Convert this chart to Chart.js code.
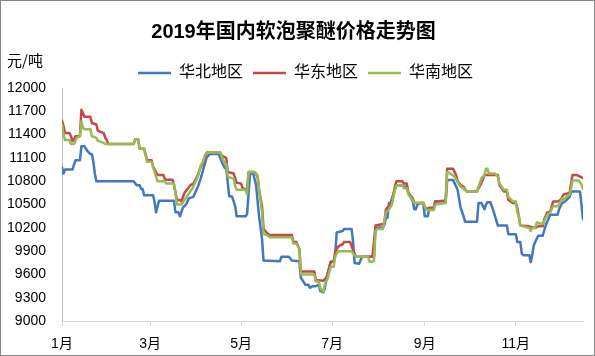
<!DOCTYPE html>
<html><head><meta charset="utf-8">
<script src="https://cdn.jsdelivr.net/npm/chart.js@4.4.1/dist/chart.umd.min.js"></script>
<style>html,body{margin:0;padding:0;background:#fff}#wrap{width:595px;height:356px}</style>
</head><body><div id="wrap"><canvas id="c" width="595" height="356"></canvas></div>
<script>
const chartTitle = '2019年国内软泡聚醚价格走势图';
const unitLabel = '元/吨';
const seriesNames = ['华北地区', '华东地区', '华南地区'];
const monthTickDays = [0, 59, 120, 181, 243, 304];
const monthTickLabels = ['1月', '3月', '5月', '7月', '9月', '11月'];
const yTickValues = [9000, 9300, 9600, 9900, 10200, 10500, 10800, 11100, 11400, 11700, 12000];

// 华北地区 (day of year, price)
const northDays = [0,1,2,7,9,12,13,15,17,19,20,21,22,23,48,50,52,53,54,55,61,62,63,65,75,76,78,79,81,83,85,88,91,93,95,97,99,105,107,109,110,111,112,114,116,117,123,124,125,126,128,129,130,132,134,135,146,147,152,154,159,160,163,165,166,168,170,172,173,175,176,178,180,182,183,184,188,189,194,195,196,199,200,201,209,210,215,216,217,218,219,220,223,224,228,229,231,232,235,236,237,238,240,242,243,245,246,249,250,257,258,262,265,267,269,270,278,279,281,282,283,284,285,287,289,292,298,299,304,305,307,308,309,313,314,315,316,317,319,322,324,327,332,333,335,337,340,341,347,348,349];
const northValues = [10980,10900,10950,10950,11070,11070,11250,11250,11190,11150,11150,11050,10900,10800,10800,10750,10750,10700,10700,10620,10620,10540,10400,10550,10550,10400,10400,10350,10460,10500,10580,10600,10730,10840,10980,11110,11150,11150,11050,10970,10970,10790,10610,10600,10480,10350,10350,10380,10650,10900,10900,10830,10750,10350,10060,9780,9770,9830,9830,9780,9770,9560,9470,9470,9430,9450,9450,9470,9390,9370,9420,9620,9765,9765,9850,10140,10160,10185,10185,10020,9750,9740,9785,9830,9830,10200,10210,10240,10330,10330,10520,10520,10690,10750,10750,10730,10730,10650,10540,10440,10440,10500,10520,10520,10350,10350,10440,10440,10540,10550,10815,10815,10690,10460,10350,10280,10280,10520,10520,10480,10440,10500,10530,10530,10420,10230,10230,10120,10120,10020,10020,9870,9850,9850,9760,9850,9975,10020,10100,10100,10230,10370,10370,10440,10520,10540,10600,10670,10670,10500,10310];

// 华东地区
const eastDays = [0,1,2,5,6,7,8,9,12,13,14,15,19,20,23,24,28,29,30,31,48,49,51,52,55,56,57,60,61,62,64,68,69,74,75,77,79,80,82,86,88,91,93,94,96,97,106,107,109,110,111,115,116,117,120,121,124,125,129,131,132,134,135,137,139,154,155,157,159,160,169,170,175,177,178,180,182,183,184,186,188,189,193,195,197,208,210,215,216,217,219,221,223,224,228,229,231,232,235,236,242,244,246,249,250,257,258,262,264,265,267,269,271,278,279,281,283,292,293,296,298,299,302,304,305,306,307,313,317,319,322,323,325,327,329,332,334,336,338,340,341,342,345,347,349];
const eastValues = [11580,11510,11420,11420,11380,11320,11340,11380,11380,11720,11680,11630,11630,11550,11530,11450,11420,11360,11330,11280,11280,11340,11340,11220,11220,11150,11070,11070,10990,10950,10880,10880,10820,10820,10760,10560,10560,10540,10650,10750,10770,10880,10990,11020,11100,11170,11170,11130,11110,11100,10920,10900,10840,10780,10770,10710,10690,10920,10920,10860,10690,10480,10190,10140,10110,10110,10020,10020,9930,9640,9640,9530,9520,9560,9600,9765,9765,9890,9930,9975,9990,10020,10020,9910,9830,9830,10230,10250,10270,10440,10480,10540,10730,10800,10800,10770,10770,10650,10580,10520,10520,10440,10460,10460,10540,10550,10960,10960,10880,10800,10750,10730,10670,10670,10710,10780,10880,10880,10750,10670,10670,10560,10520,10520,10460,10350,10230,10220,10200,10220,10220,10310,10400,10410,10540,10540,10560,10630,10640,10650,10770,10880,10880,10860,10840];

// 华南地区
const southDays = [0,1,2,5,6,8,9,10,12,13,14,15,19,20,23,24,27,29,48,49,51,52,55,56,57,60,61,62,64,69,70,75,76,77,80,82,86,88,91,93,94,96,98,106,107,109,110,111,115,116,117,123,124,125,129,131,132,134,135,138,139,154,155,157,159,160,169,170,172,173,175,176,178,180,182,183,184,185,194,195,197,205,206,208,209,210,211,215,217,219,221,223,224,228,229,231,232,235,236,242,244,249,250,257,258,260,263,265,267,269,271,278,279,281,283,284,285,286,290,292,293,296,298,299,302,304,305,306,307,313,314,315,317,318,322,323,325,327,329,332,333,335,336,338,340,341,342,346,348,349];
const southValues = [11530,11400,11330,11330,11280,11280,11320,11360,11380,11570,11490,11470,11470,11380,11360,11320,11300,11280,11280,11340,11340,11220,11220,11130,11050,11050,10980,10920,10800,10800,10770,10770,10650,10500,10500,10560,10670,10730,10860,11010,11030,11150,11170,11170,11120,11030,11020,10860,10830,10740,10690,10690,10630,10920,10920,10880,10690,10400,10120,10100,10080,10080,10000,10000,9930,9600,9600,9510,9510,9430,9370,9470,9555,9700,9700,9830,9870,9900,9900,9870,9830,9830,9765,9765,9780,10160,10185,10185,10400,10440,10500,10690,10750,10750,10710,10710,10630,10560,10520,10520,10430,10430,10500,10520,10920,10900,10860,10790,10730,10710,10670,10670,10730,10840,10880,10960,10960,10900,10900,10860,10770,10690,10690,10600,10540,10540,10400,10350,10230,10200,10160,10200,10200,10270,10250,10290,10370,10400,10480,10480,10500,10580,10560,10600,10630,10710,10810,10810,10760,10700];

const seriesColors = ['#4277c2', '#c34a47', '#98ba52'];

function toPoints(days, values) { return days.map((d, i) => ({ x: d, y: values[i] })); }

const framePlugin = {
  id: 'frame',
  beforeDraw(chart) {
    const ctx = chart.ctx;
    ctx.save(); ctx.fillStyle = '#fff'; ctx.fillRect(0, 0, chart.width, chart.height); ctx.restore();
  },
  afterDraw(chart) {
    const ctx = chart.ctx;
    ctx.save();
    ctx.strokeStyle = '#868686'; ctx.lineWidth = 1;
    ctx.strokeRect(0.5, 0.5, chart.width - 1, chart.height - 1);
    ctx.font = '15px "Noto Sans CJK SC", sans-serif';
    ctx.fillStyle = '#000'; ctx.textBaseline = 'middle'; ctx.textAlign = 'left';
    ctx.fillText(unitLabel, 7, 60);
    ctx.restore();
  }
};

// tighten the legend box and nudge it right, as in the reference
const legendTunePlugin = {
  id: 'legendTune',
  beforeLayout(chart) {
    const lg = chart.legend;
    if (lg && !lg.__tuned) {
      const fit = lg.fit.bind(lg);
      lg.fit = function () { fit(); this.height -= 3; };
      lg.__tuned = true;
    }
  },
  afterLayout(chart) {
    const lg = chart.legend;
    if (lg) { lg.left += 12; lg.right += 12; }
  }
};

const FONT = "'Liberation Sans', 'Noto Sans CJK SC', sans-serif";

new Chart(document.getElementById('c'), {
  type: 'line',
  data: {
    datasets: [
      { label: seriesNames[0], data: toPoints(northDays, northValues), borderColor: seriesColors[0], backgroundColor: seriesColors[0], borderWidth: 2.5, order: 3 },
      { label: seriesNames[1], data: toPoints(eastDays, eastValues), borderColor: seriesColors[1], backgroundColor: seriesColors[1], borderWidth: 2.5, order: 2 },
      { label: seriesNames[2], data: toPoints(southDays, southValues), borderColor: seriesColors[2], backgroundColor: seriesColors[2], borderWidth: 2.5, order: 1 }
    ]
  },
  options: {
    responsive: false,
    animation: false,
    devicePixelRatio: 1,
    elements: { point: { radius: 0 }, line: { borderWidth: 2.5, tension: 0, borderCapStyle: 'round', borderJoinStyle: 'round' } },
    layout: { padding: { left: 4, right: 12, top: 0, bottom: 0 } },
    plugins: {
      title: { display: true, text: chartTitle, color: '#000', font: { family: FONT, size: 20, weight: 'bold' }, padding: { top: 20, bottom: 11 } },
      legend: {
        display: true,
        labels: {
          color: '#000', font: { family: FONT, size: 16 }, padding: 10,
          usePointStyle: true, pointStyle: 'line', pointStyleWidth: 33, boxHeight: 16,
          sort: (a, b) => a.datasetIndex - b.datasetIndex
        }
      },
      tooltip: { enabled: false }
    },
    scales: {
      x: {
        type: 'linear', min: 0, max: 349,
        afterBuildTicks: (axis) => { axis.ticks = monthTickDays.map(v => ({ value: v })); },
        afterFit: (axis) => { axis.height -= 7; },
        ticks: { color: '#000', font: { family: FONT, size: 14 }, padding: 10, autoSkip: false, maxRotation: 0,
          callback: (v) => monthTickLabels[monthTickDays.indexOf(v)] },
        grid: { display: true, drawOnChartArea: false, drawTicks: true, tickLength: 5, color: '#d9d9d9' },
        border: { display: true, color: '#d9d9d9', width: 1 }
      },
      y: {
        min: 9000, max: 12000,
        afterBuildTicks: (axis) => { axis.ticks = yTickValues.map(v => ({ value: v })); },
        afterFit: (axis) => { axis.width = 58; },
        ticks: { color: '#000', font: { family: FONT, size: 14 }, padding: 16, autoSkip: false, callback: (v) => String(v) },
        grid: { display: false, drawTicks: false },
        border: { display: true, color: '#bfbfbf', width: 1 }
      }
    }
  },
  plugins: [framePlugin, legendTunePlugin]
});
</script>
</body></html>
